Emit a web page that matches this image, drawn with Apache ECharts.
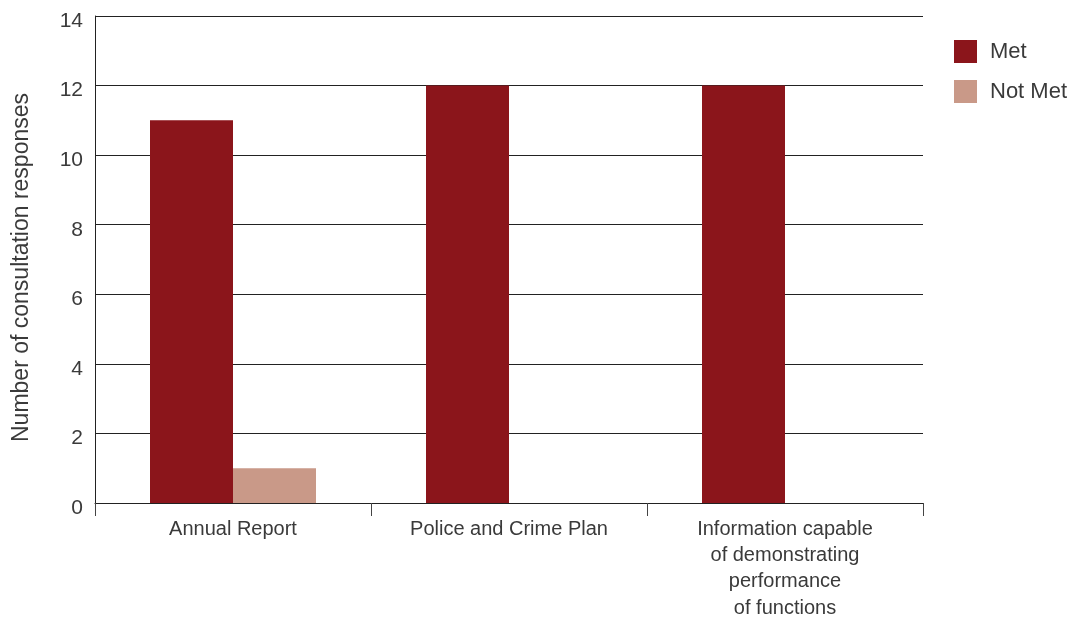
<!DOCTYPE html>
<html>
<head>
<meta charset="utf-8">
<script src="https://cdn.jsdelivr.net/npm/echarts@6/dist/echarts.min.js"></script>
<style>html,body{margin:0;padding:0;background:#fff;overflow:hidden}#c{width:1078px;height:617px}</style>
</head>
<body>
<div id="c"></div>
<script>
const categories = ["Annual Report", "Police and Crime Plan", "Information capable\nof demonstrating\nperformance\nof functions"];
const metValues = [11, 12, 12];
const notMetValues = [1, 0, 0];
const yTicks = [0, 2, 4, 6, 8, 10, 12, 14];

const FONT = "Liberation Sans";
const chart = echarts.init(document.getElementById('c'), null, {renderer: 'canvas', width: 1078, height: 617});
chart.setOption({
  animation: false,
  textStyle: {fontFamily: FONT},
  grid: {left: 95, right: 155, top: 16, bottom: 114, containLabel: false, outerBoundsMode: 'none'},
  legend: {
    orient: 'vertical', left: 954, top: 40, padding: 0,
    itemWidth: 23, itemHeight: 23, itemGap: 17,
    icon: 'rect',
    textStyle: {fontSize: 22, color: '#3a3a3a', fontFamily: FONT, padding: [3, 0, 0, 8]},
    data: ['Met', 'Not Met']
  },
  xAxis: {
    type: 'category', data: categories,
    axisLine: {lineStyle: {color: '#222', width: 1}},
    axisTick: {show: true, length: 13, lineStyle: {color: '#444'}},
    axisLabel: {fontSize: 20, color: '#3a3a3a', lineHeight: 26.3, margin: 13, fontFamily: FONT, interval: 0}
  },
  yAxis: {
    type: 'value', min: yTicks[0], max: yTicks[yTicks.length - 1], interval: 2,
    name: 'Number of consultation responses', nameLocation: 'middle', nameGap: 62,
    nameTextStyle: {fontSize: 23, color: '#3a3a3a', fontFamily: FONT, padding: [0, 16, 0, 0]},
    axisLine: {show: true, lineStyle: {color: '#222'}},
    axisTick: {show: false},
    axisLabel: {fontSize: 21, color: '#3a3a3a', margin: 12, fontFamily: FONT, verticalAlign: 'top', lineHeight: 10},
    splitLine: {lineStyle: {color: '#222', width: 1}}
  },
  series: [
    {name: 'Met', type: 'bar', data: metValues, barWidth: 83, barGap: '0%', itemStyle: {color: '#8B151B'}},
    {name: 'Not Met', type: 'bar', data: notMetValues, barWidth: 83, barGap: '0%', itemStyle: {color: '#C99988'}}
  ]
});
</script>
</body>
</html>
